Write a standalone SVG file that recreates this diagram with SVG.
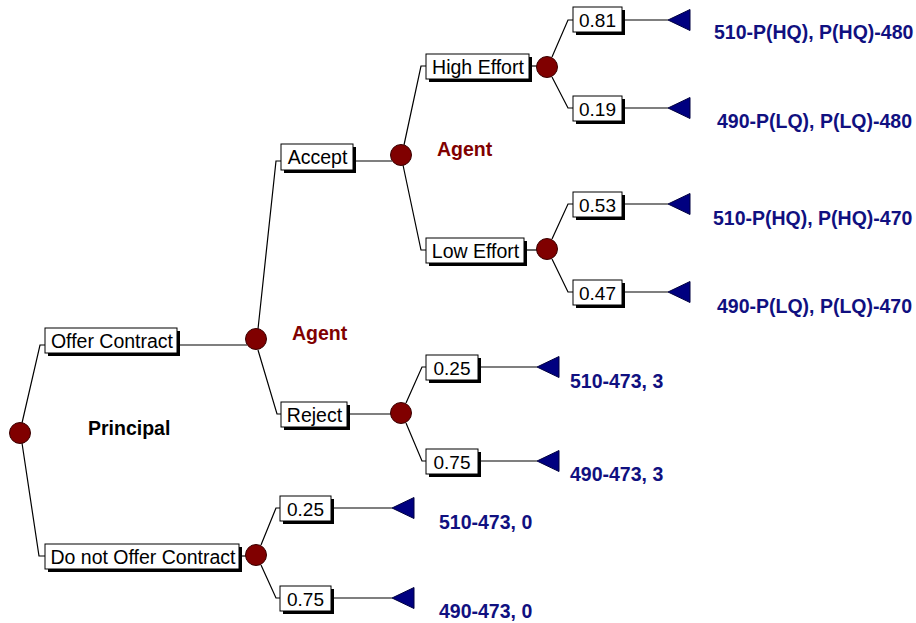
<svg xmlns="http://www.w3.org/2000/svg" width="916" height="623" viewBox="0 0 916 623">
<style>
.bg{fill:#fff}
.sh{fill:#000}
.bx{fill:#fff;stroke:#000;stroke-width:1}
.lbl{font-family:"Liberation Sans",Arial,sans-serif;font-size:19.5px;fill:#000;text-anchor:middle}
.num{font-family:"Liberation Sans",Arial,sans-serif;font-size:19px;fill:#000;text-anchor:middle}
.node{fill:#800000;stroke:#3a0000;stroke-width:1}
.term{fill:#000080;stroke:#000040;stroke-width:1}
.pay{font-family:"Liberation Sans",Arial,sans-serif;font-size:19.5px;font-weight:bold;fill:#101080}
.who{font-family:"Liberation Sans",Arial,sans-serif;font-size:19.5px;font-weight:bold}
.conn{fill:none;stroke:#000;stroke-width:1.2}
</style>
<defs>
<polygon id="tri" class="term" points="0,0 22,-10.5 22,10.5"/>
</defs>
<rect class="bg" x="0" y="0" width="916" height="623"/>

<g id="connectors">
<polyline class="conn" points="22,423 40,345 45,345"/>
<polyline class="conn" points="22,443 39,556 45,556"/>
<line class="conn" x1="177" y1="345" x2="247" y2="345"/>
<line class="conn" x1="239" y1="556" x2="246" y2="556"/>
<polyline class="conn" points="258,329 276,161 281,161"/>
<polyline class="conn" points="258,350 277,414 281,414"/>
<line class="conn" x1="353" y1="161" x2="392" y2="161"/>
<line class="conn" x1="347" y1="414" x2="391" y2="414"/>
<polyline class="conn" points="404,145 421,66 426,66"/>
<polyline class="conn" points="403,165 421,250 426,250"/>
<line class="conn" x1="529" y1="66" x2="537" y2="66"/>
<line class="conn" x1="524" y1="250" x2="537" y2="250"/>
<polyline class="conn" points="552,57 568,20 573,20"/>
<polyline class="conn" points="552,77 568,108 573,108"/>
<polyline class="conn" points="552,239 568,204 573,204"/>
<polyline class="conn" points="552,259 568,292 573,292"/>
<polyline class="conn" points="406,403 422,367 426,367"/>
<polyline class="conn" points="406,423 422,461 426,461"/>
<polyline class="conn" points="261,545 276,508 280,508"/>
<polyline class="conn" points="261,565 276,598 280,598"/>
<line class="conn" x1="622" y1="20" x2="668" y2="20"/>
<line class="conn" x1="622" y1="108" x2="668" y2="108"/>
<line class="conn" x1="622" y1="204" x2="668" y2="204"/>
<line class="conn" x1="622" y1="292" x2="668" y2="292"/>
<line class="conn" x1="478" y1="367" x2="537" y2="367"/>
<line class="conn" x1="478" y1="461" x2="537" y2="461"/>
<line class="conn" x1="331" y1="508" x2="392" y2="508"/>
<line class="conn" x1="331" y1="598" x2="392" y2="598"/>
</g>

<g id="root"><circle class="node" cx="20" cy="433" r="10.5"/></g>
<g id="principal-label"><text class="who" x="88" y="435" fill="#000">Principal</text></g>

<g id="offer"><rect class="sh" x="48" y="331" width="132" height="25"/><rect class="bx" x="45" y="328" width="132" height="25"/><text class="lbl" x="112" y="347.5">Offer Contract</text></g>
<g id="dno"><rect class="sh" x="48" y="547" width="194" height="25"/><rect class="bx" x="45" y="544" width="194" height="25"/><text class="lbl" x="143" y="563.5">Do not Offer Contract</text></g>

<g id="agent1"><circle class="node" cx="256" cy="339" r="10.5"/><text class="who" x="292" y="339.5" fill="#800000">Agent</text></g>
<g id="accept"><rect class="sh" x="284" y="147" width="72" height="26"/><rect class="bx" x="281" y="144" width="72" height="26"/><text class="lbl" x="317.5" y="163.5">Accept</text></g>
<g id="reject"><rect class="sh" x="284" y="405" width="66" height="25"/><rect class="bx" x="281" y="402" width="66" height="25"/><text class="lbl" x="314.5" y="421.5">Reject</text></g>

<g id="agent2"><circle class="node" cx="401" cy="155" r="10.5"/><text class="who" x="437" y="156" fill="#800000">Agent</text></g>
<g id="high"><rect class="sh" x="429" y="57" width="103" height="25"/><rect class="bx" x="426" y="54" width="103" height="25"/><text class="lbl" x="478" y="73.5">High Effort</text></g>
<g id="low"><rect class="sh" x="429" y="241" width="98" height="25"/><rect class="bx" x="426" y="238" width="98" height="25"/><text class="lbl" x="475.5" y="257.5">Low Effort</text></g>

<g id="c-high"><circle class="node" cx="547" cy="67" r="10.5"/></g>
<g id="c-low"><circle class="node" cx="547" cy="249" r="10.5"/></g>
<g id="c-reject"><circle class="node" cx="401" cy="413" r="10.5"/></g>
<g id="c-dno"><circle class="node" cx="256" cy="555" r="10.5"/></g>

<g id="p081"><rect class="sh" x="576" y="10" width="49" height="25"/><rect class="bx" x="573" y="7" width="49" height="25"/><text class="num" x="597.5" y="26.5">0.81</text></g>
<g id="p019"><rect class="sh" x="576" y="99" width="49" height="25"/><rect class="bx" x="573" y="96" width="49" height="25"/><text class="num" x="597.5" y="115.5">0.19</text></g>
<g id="p053"><rect class="sh" x="576" y="195" width="49" height="25"/><rect class="bx" x="573" y="192" width="49" height="25"/><text class="num" x="597.5" y="211.5">0.53</text></g>
<g id="p047"><rect class="sh" x="576" y="283" width="49" height="25"/><rect class="bx" x="573" y="280" width="49" height="25"/><text class="num" x="597.5" y="299.5">0.47</text></g>
<g id="p025r"><rect class="sh" x="429" y="358" width="52" height="25"/><rect class="bx" x="426" y="355" width="52" height="25"/><text class="num" x="452" y="374.5">0.25</text></g>
<g id="p075r"><rect class="sh" x="429" y="452" width="52" height="25"/><rect class="bx" x="426" y="449" width="52" height="25"/><text class="num" x="452" y="468.5">0.75</text></g>
<g id="p025d"><rect class="sh" x="283" y="499" width="51" height="25"/><rect class="bx" x="280" y="496" width="51" height="25"/><text class="num" x="305.5" y="515.5">0.25</text></g>
<g id="p075d"><rect class="sh" x="283" y="589" width="51" height="25"/><rect class="bx" x="280" y="586" width="51" height="25"/><text class="num" x="305.5" y="605.5">0.75</text></g>

<g id="t1"><use href="#tri" x="668" y="20"/><text class="pay" x="714" y="39">510-P(HQ), P(HQ)-480</text></g>
<g id="t2"><use href="#tri" x="668" y="108"/><text class="pay" x="717" y="128">490-P(LQ), P(LQ)-480</text></g>
<g id="t3"><use href="#tri" x="668" y="204"/><text class="pay" x="713" y="225">510-P(HQ), P(HQ)-470</text></g>
<g id="t4"><use href="#tri" x="668" y="292"/><text class="pay" x="717" y="313">490-P(LQ), P(LQ)-470</text></g>
<g id="t5"><use href="#tri" x="537" y="367"/><text class="pay" x="570" y="388">510-473, 3</text></g>
<g id="t6"><use href="#tri" x="537" y="461"/><text class="pay" x="570" y="481">490-473, 3</text></g>
<g id="t7"><use href="#tri" x="392" y="508"/><text class="pay" x="439" y="529">510-473, 0</text></g>
<g id="t8"><use href="#tri" x="392" y="598"/><text class="pay" x="439" y="618">490-473, 0</text></g>
</svg>
